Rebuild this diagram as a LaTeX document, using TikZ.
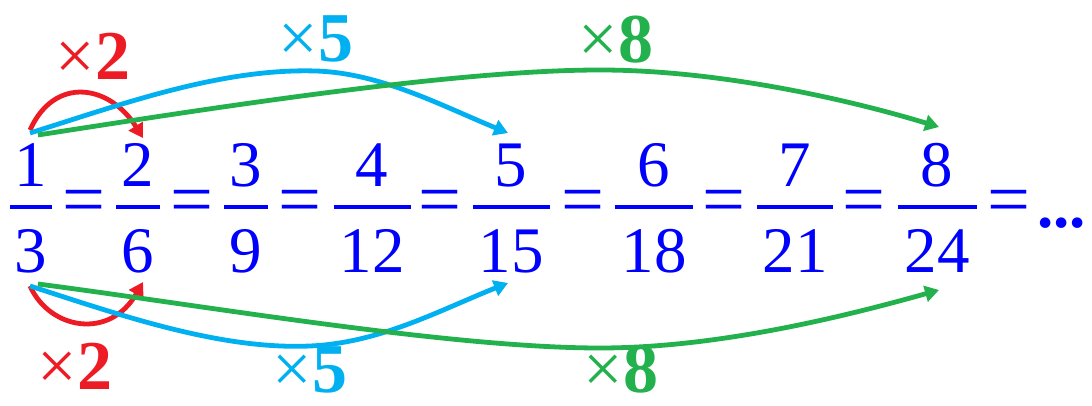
\documentclass[tikz,border=0pt]{standalone}
\usepackage{fontspec}
\setmainfont{Liberation Serif}
\newfontfamily\serifnum{Liberation Serif}
\usetikzlibrary{arrows.meta}
\definecolor{numblue}{RGB}{0,0,255}
\definecolor{myred}{RGB}{237,28,36}
\definecolor{mycyan}{RGB}{0,176,240}
\definecolor{mygreen}{RGB}{34,177,76}
\begin{document}
\begin{tikzpicture}[x=0.5pt,y=-0.5pt,
  num/.style={text=numblue, font=\serifnum\fontsize{32.5}{39}\selectfont, inner sep=0pt, anchor=base},
  eqsign/.style={text=numblue, font=\serifnum\fontsize{34}{40}\selectfont, inner sep=0pt, anchor=center},
  fracbar/.style={draw=numblue, line width=1.6pt},
  lbl/.style={font=\serifnum\fontsize{35}{42}\selectfont, inner sep=0pt, anchor=base},
  conn/.style={line width=2.4pt, -{Triangle[length=7pt,width=8pt]}},
]
\useasboundingbox (0,0) rectangle (1092,406);
% fractions
\foreach \i/\x/\n/\d/\w in {1/31/1/3/21, 2/138/2/6/22, 3/246/3/9/22, 4/372/4/12/38.5, 5/511/5/15/38.5, 6/654/6/18/39, 7/795/7/21/38, 8/937/8/24/39.5} {
  \node[num] (n\i) at (\x,187) {\n};
  \node[num] (d\i) at (\x,272) {\d};
  \draw[fracbar] (\x-\w,207) -- (\x+\w,207);
}
% equal signs
\foreach \i/\x in {1/84,2/192,3/300,4/440,5/583,6/724,7/864,8/1009} {
  \node[eqsign] (e\i) at (\x,207.5) {\scalebox{1.12}[1.1]{=}};
}
\node[num, anchor=base west] (dots) at (1037,228) {\textbf{...}};
% connector ends
\coordinate (rts) at (30,130);
\coordinate (rte) at (143,138);
\coordinate (rbs) at (30,286);
\coordinate (rbe) at (143,282);
\coordinate (cts) at (30,133);
\coordinate (cte) at (508,133);
\coordinate (cbs) at (30,286);
\coordinate (cbe) at (508,283);
\coordinate (gts) at (38,135);
\coordinate (gte) at (939,127);
\coordinate (gbs) at (38,284);
\coordinate (gbe) at (939,290);
% red
\draw[conn, myred] (rts) .. controls (55,75) and (110,85) .. (rte);
\draw[conn, myred] (rbs) .. controls (50,330) and (110,340) .. (rbe);
% cyan
\draw[conn, mycyan] (cts) .. controls (120,105) and (220,68) .. (316,71) .. controls (380,73) and (440,105) .. (cte);
\draw[conn, mycyan] (cbs) .. controls (120,315) and (220,350) .. (310,346) .. controls (380,343) and (440,310) .. (cbe);
% green
\draw[conn, mygreen] (gts) .. controls (200,110) and (450,70) .. (600,70) .. controls (720,70) and (850,100) .. (gte);
\draw[conn, mygreen] (gbs) .. controls (200,305) and (450,348) .. (600,348) .. controls (720,348) and (850,315) .. (gbe);
% labels
\node[lbl, text=myred] (l2t) at (93,80) {×\textbf{2}};
\node[lbl, text=myred] (l2b) at (75,389) {×\textbf{2}};
\node[lbl, text=mycyan] (l5t) at (316,62) {×\textbf{5}};
\node[lbl, text=mycyan] (l5b) at (310,392) {×\textbf{5}};
\node[lbl, text=mygreen] (l8t) at (616,63) {×\textbf{8}};
\node[lbl, text=mygreen] (l8b) at (621,392) {×\textbf{8}};
\end{tikzpicture}
\end{document}
